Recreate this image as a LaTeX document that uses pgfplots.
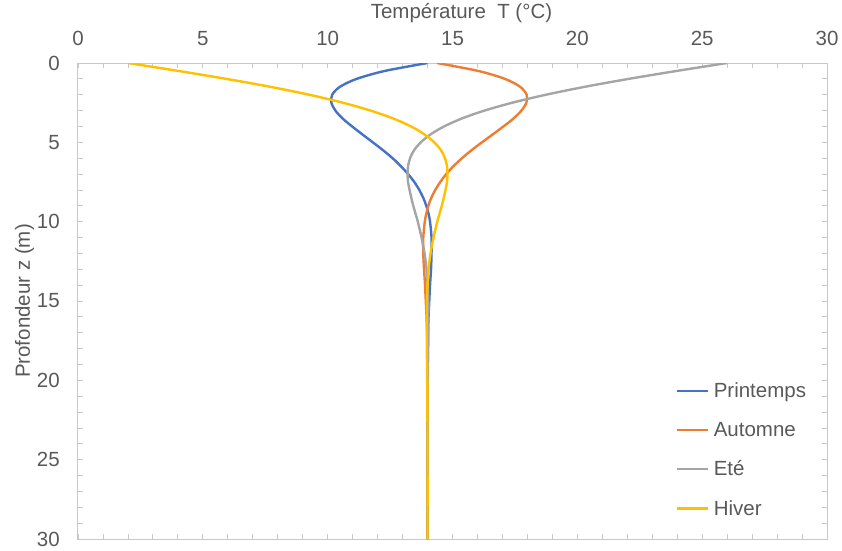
\documentclass[border=0pt]{standalone}
\usepackage{fontspec}
\setmainfont{Liberation Sans}
\usepackage{pgfplots}
\pgfplotsset{compat=1.18}
\definecolor{cP}{HTML}{4472C4}
\definecolor{cA}{HTML}{ED7D31}
\definecolor{cE}{HTML}{A5A5A5}
\definecolor{cH}{HTML}{FFC000}
\definecolor{txt}{HTML}{595959}
\definecolor{axc}{HTML}{C8C8C8}
\begin{document}
\begin{tikzpicture}
\begin{axis}[
  scale only axis, width=749bp, height=476bp,
  xmin=0, xmax=30, ymin=0, ymax=30, y dir=reverse,
  xtick={0,5,...,30}, ytick={0,5,...,30}, minor tick num=4,
  tick align=inside, xtick pos=both, ytick pos=both,
  xticklabel pos=upper, yticklabel pos=lower,
  major tick length=5bp, minor tick length=5bp,
  axis line style={axc, line width=1bp},
  every tick/.style={axc, line width=0.8bp},
  minor tick style={axc, line width=0.8bp},
  major tick style={axc, line width=0.8bp},
  tick label style={font=\fontsize{20.5bp}{24bp}\selectfont, text=txt, inner sep=0pt},
  /pgf/number format/assume math mode=true,
  xticklabel style={anchor=center, yshift=24.7bp},
  yticklabel style={anchor=east, xshift=-18bp},
  xlabel={Température~~T (°C)},
  ylabel={Profondeur z (m)},
  every axis x label/.style={at={(rel axis cs:0.512,1.094)}, anchor=base, inner sep=0pt},
  every axis y label/.style={at={(rel axis cs:-0.0641,0.5)}, rotate=90, anchor=base, inner sep=0pt},
  label style={font=\fontsize{20.5bp}{24bp}\selectfont, text=txt},
  legend style={draw=none, fill=none, at={(axis cs:23.8,19.9)}, anchor=north west,
    font=\fontsize{20.5bp}{24bp}\selectfont, text=txt, row sep=19bp},
  legend cell align=left,
  legend image code/.code={\draw[#1] (0bp,0bp) -- (31bp,0bp); \path (34bp,0bp);},
  every axis plot/.append style={line width=2.4bp, smooth},
]
\addplot[cP] coordinates {
(14.00,0) (12.29,0.5) (11.16,1) (10.49,1.5) (10.18,2) (10.15,2.5) (10.31,3) (10.60,3.5)
(10.98,4) (11.39,4.5) (11.81,5) (12.22,5.5) (12.60,6) (12.93,6.5) (13.22,7) (13.47,7.5)
(13.67,8) (13.83,8.5) (13.95,9) (14.04,9.5) (14.10,10) (14.16,11) (14.16,12) (14.14,13)
(14.10,14) (14.07,15) (14.04,16) (14.00,18) (13.99,20) (14.00,25) (14.00,30)};
\addlegendentry{Printemps}
\addplot[cA] coordinates {
(14.38,0) (16.03,0.5) (17.10,1) (17.71,1.5) (17.97,2) (17.96,2.5) (17.76,3) (17.44,3.5)
(17.04,4) (16.61,4.5) (16.18,5) (15.76,5.5) (15.38,6) (15.04,6.5) (14.75,7) (14.51,7.5)
(14.31,8) (14.15,8.5) (14.03,9) (13.95,9.5) (13.89,10) (13.83,11) (13.83,12) (13.86,13)
(13.90,14) (13.93,15) (13.96,16) (14.00,18) (14.01,20) (14.00,25) (14.00,30)};
\addlegendentry{Automne}
\addplot[cE] coordinates {
(26.00,0) (23.98,0.5) (22.06,1) (20.30,1.5) (18.74,2) (17.40,2.5) (16.28,3) (15.37,3.5)
(14.66,4) (14.12,4.5) (13.73,5) (13.46,5.5) (13.30,6) (13.22,6.5) (13.20,7) (13.22,7.5)
(13.28,8) (13.35,8.5) (13.43,9) (13.52,9.5) (13.61,10) (13.76,11) (13.88,12) (13.96,13)
(14.00,14) (14.03,15) (14.03,16) (14.03,18) (14.01,20) (14.00,25) (14.00,30)};
\addlegendentry{Eté}
\addplot[cH] coordinates {
(2.00,0) (4.02,0.5) (5.94,1) (7.70,1.5) (9.26,2) (10.60,2.5) (11.72,3) (12.63,3.5)
(13.34,4) (13.88,4.5) (14.27,5) (14.54,5.5) (14.70,6) (14.78,6.5) (14.80,7) (14.78,7.5)
(14.72,8) (14.65,8.5) (14.57,9) (14.48,9.5) (14.39,10) (14.24,11) (14.12,12) (14.04,13)
(14.00,14) (13.97,15) (13.97,16) (13.97,18) (13.99,20) (14.00,25) (14.00,30)};
\addlegendentry{Hiver}
\end{axis}
\path ([xshift=-78bp,yshift=63bp]current axis.north west) ([xshift=15bp,yshift=-12bp]current axis.south east);
\end{tikzpicture}
\end{document}
